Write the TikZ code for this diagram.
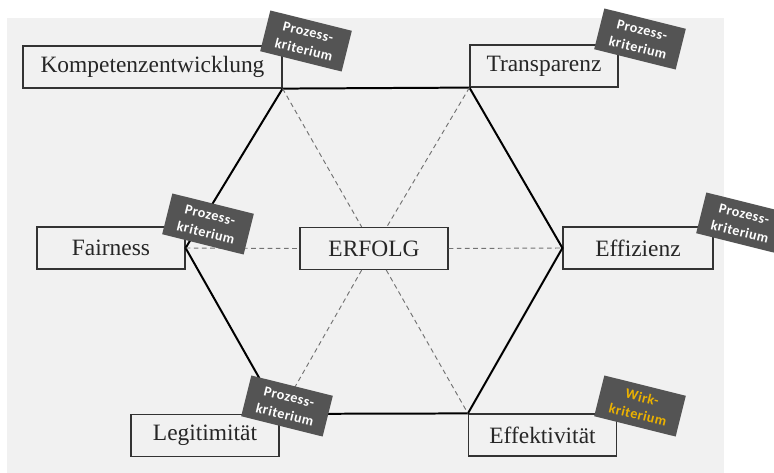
\documentclass[tikz,border=0pt]{standalone}
\usepackage{fontspec}
\setmainfont{Liberation Serif}
\newfontfamily\tagfont[LetterSpace=4]{Carlito}
\usepackage{tikz}

\definecolor{scan}{RGB}{241,241,241}
\definecolor{tagfill}{RGB}{84,84,84}
\definecolor{wirkgold}{RGB}{236,178,0}

\begin{document}
\begin{tikzpicture}[x=0.03cm, y=-0.03cm,
        feld/.style={draw=black!80, line width=1pt, minimum width=4.44cm, minimum height=1.26cm, inner sep=0pt, text=black!85, font=\fontsize{20}{24}\selectfont},
        krit/.style={fill=tagfill, text=white, rotate=-14, minimum width=2.52cm, minimum height=1.26cm, inner sep=0pt, align=center, font=\tagfont\bfseries\fontsize{12}{15.5}\selectfont},
        hexline/.style={black, line width=1.7pt, line join=round},
        dashline/.style={black!55, line width=0.8pt, dash pattern=on 4pt off 3pt}]
        % Page
        \clip (0,0) rectangle (774,473);
        \fill[white] (0,0) rectangle (774,473);
        \fill[scan] (7,18) rectangle (724,473);

        % Criteria
        \node[feld, minimum width=7.77cm] (komp) at (152.5,67) {Kompetenzentwicklung};
        \node[feld] (trans) at (544,66) {Transparenz};
        \node[feld] (fair) at (111,248) {Fairness};
        \node[feld] (erfolg) at (374,248.5) {ERFOLG};
        \node[feld, minimum width=4.5cm] (effiz) at (638,248) {Effizienz};
        \node[feld] (legit) at (205,435.5) {Legitimität};
        \node[feld] (effekt) at (542.5,435) {Effektivität};

        % Hexagon
        \draw[hexline] (komp.south east) -- (trans.south west) -- (effiz.west) -- (effekt.north west) -- (legit.north east) -- (fair.east) -- cycle;

        % Diagonals
        \draw[dashline] (komp.south east) -- (erfolg);
        \draw[dashline] (erfolg) -- (effekt.north west);
        \draw[dashline] (trans.south west) -- (erfolg);
        \draw[dashline] (erfolg) -- (legit.north east);
        \draw[dashline] (fair.east) -- (erfolg.west);
        \draw[dashline] (erfolg.east) -- (effiz.west);

        % Tags
        \node[krit] (kritKomp) at (306,41) {Prozess-\\kriterium};
        \node[krit] (kritTrans) at (640,39) {Prozess-\\kriterium};
        \node[krit] (kritFair) at (208,224) {Prozess-\\kriterium};
        \node[krit] (kritEffiz) at (742,223) {Prozess-\\kriterium};
        \node[krit] (kritLegit) at (287,406) {Prozess-\\kriterium};
        \node[krit, text=wirkgold] (kritEffekt) at (640,406) {Wirk-\\kriterium};
    \end{tikzpicture}
\end{document}
